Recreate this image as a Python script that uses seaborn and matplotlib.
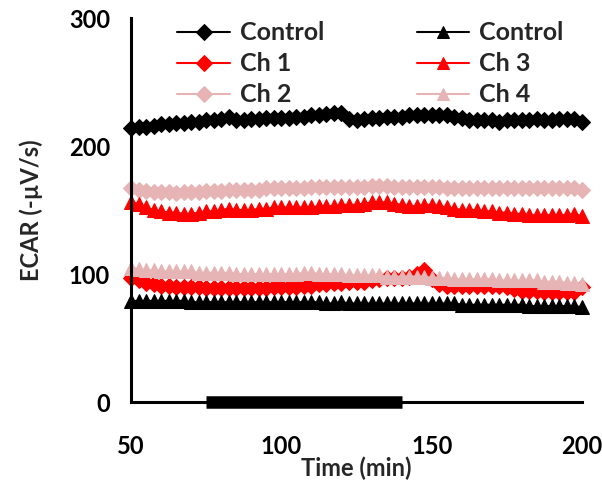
import matplotlib
matplotlib.use("Agg")
import matplotlib.pyplot as plt
import seaborn as sns
import pandas as pd

# Sampling times (min)
time_min = [50, 52.5, 55, 57.5, 60, 62.5, 65, 67.5, 70, 72.5, 75, 77.5, 80, 82.5,
            85, 87.5, 90, 92.5, 95, 97.5, 100, 102.5, 105, 107.5, 110, 112.5, 115,
            117.5, 120, 122.5, 125, 127.5, 130, 132.5, 135, 137.5, 140, 142.5, 145,
            147.5, 150, 152.5, 155, 157.5, 160, 162.5, 165, 167.5, 170, 172.5, 175,
            177.5, 180, 182.5, 185, 187.5, 190, 192.5, 195, 197.5, 200]

# ECAR traces, first group (diamonds)
control_a = [214, 215, 215, 216, 217,
             217, 218, 218, 219, 219, 220,
             220, 221, 223, 220, 220, 221,
             221, 222, 222, 222, 222, 223,
             223, 224, 224, 225, 226, 226,
             221, 220, 221, 222, 222, 223,
             223, 223, 224, 224, 224, 224,
             224, 224, 223, 222, 220, 220,
             220, 220, 219, 220, 220, 220,
             220, 221, 220, 220, 221, 221,
             221, 219]
ch1 = [97, 95, 93, 92, 91,
       91, 90, 90, 90, 90, 89,
       89, 89, 89, 89, 89, 89,
       89, 89, 90, 90, 90, 90,
       91, 91, 92, 92, 93, 93,
       94, 94, 94, 95, 96, 97,
       97, 97, 98, 100, 103, 96,
       92, 91, 91, 91, 91, 91,
       91, 91, 91, 90, 88, 87,
       87, 87, 86, 86, 86, 86,
       86, 90]
ch2 = [167, 166, 165, 164, 164,
       164, 163, 164, 164, 164, 165,
       165, 165, 166, 166, 166, 166,
       166, 167, 167, 167, 167, 167,
       167, 168, 168, 168, 168, 168,
       168, 168, 168, 169, 169, 169,
       168, 168, 168, 168, 168, 168,
       168, 167, 167, 167, 167, 167,
       167, 167, 167, 167, 167, 167,
       167, 167, 167, 167, 167, 167,
       167, 166]

# ECAR traces, second group (triangles)
control_b = [79, 79, 79, 79, 79,
             79, 79, 79, 78, 78, 78,
             78, 78, 78, 78, 78, 78,
             78, 78, 78, 78, 78, 78,
             78, 78, 78, 77, 77, 78,
             77, 77, 77, 77, 77, 77,
             77, 77, 77, 77, 77, 77,
             77, 77, 77, 76, 76, 76,
             76, 76, 76, 76, 76, 76,
             75, 75, 75, 75, 75, 75,
             75, 74]
ch3 = [156, 155, 152, 150, 149,
       148, 148, 147, 147, 148, 149,
       149, 150, 151, 150, 150, 150,
       151, 151, 152, 152, 152, 152,
       152, 152, 153, 153, 153, 154,
       154, 154, 155, 156, 156, 156,
       155, 154, 153, 153, 154, 154,
       153, 152, 151, 150, 150, 150,
       149, 149, 148, 148, 147, 147,
       146, 146, 146, 146, 146, 146,
       147, 145]
ch4 = [105, 104, 103, 103, 102,
       102, 102, 102, 102, 101, 101,
       101, 101, 101, 100, 100, 100,
       100, 100, 100, 100, 100, 100,
       101, 101, 100, 100, 100, 100,
       99, 99, 99, 99, 99, 98,
       98, 98, 98, 98, 98, 97,
       97, 97, 96, 96, 96, 96,
       96, 96, 95, 95, 95, 95,
       95, 95, 94, 94, 94, 93,
       93, 92]

series_labels = ["Control", "Ch 1", "Ch 2", "Control", "Ch 3", "Ch 4"]
series_values = [control_a, ch1, ch2, control_b, ch3, ch4]
series_markers = ["D", "D", "D", "^", "^", "^"]
series_colors = ["#000000", "#FF0000", "#E6B4B4", "#000000", "#FF0000", "#E6B4B4"]

# Treatment window shown as a bar on the time axis
treatment_window = [75, 140]

x_ticks = [50, 100, 150, 200]
y_ticks = [0, 100, 200, 300]

sns.set_style("white")
plt.rcParams["font.family"] = ["Lato", "DejaVu Sans"]
plt.rcParams["font.weight"] = "bold"

fig = plt.figure(figsize=(6.02, 4.88), dpi=100)
ax = fig.add_axes([0.2176, 0.1762, 0.7492, 0.7868])

for label, vals, mk, col in zip(series_labels, series_values, series_markers, series_colors):
    df = pd.DataFrame({"Time": time_min, "ECAR": vals})
    sns.lineplot(data=df, x="Time", y="ECAR", ax=ax, color=col, marker=mk,
                 markersize=8.5 if mk == "D" else 10, markeredgecolor=col,
                 linewidth=1.5, label=label, clip_on=False)

ax.plot(treatment_window, [0, 0], color="black", linewidth=9,
        solid_capstyle="butt", clip_on=False, zorder=5)

ax.set_xlim(50, 200)
ax.set_ylim(0, 300)
ax.set_xticks(x_ticks)
ax.set_yticks(y_ticks)

for side in ["top", "right"]:
    ax.spines[side].set_visible(False)
for side in ["left", "bottom"]:
    ax.spines[side].set_linewidth(2.2)
    ax.spines[side].set_color("black")

ax.tick_params(axis="x", direction="out", length=6, width=2, pad=18,
               labelsize=17, colors="black")
ax.tick_params(axis="y", direction="out", length=6, width=2, pad=9,
               labelsize=17, colors="black")
for lbl in ax.get_xticklabels() + ax.get_yticklabels():
    lbl.set_fontweight("bold")

ax.set_xlabel("Time (min)", fontsize=17, fontweight="bold", labelpad=-1)
ax.set_ylabel("ECAR (-µV/s)", fontsize=17, fontweight="bold", labelpad=19)

leg = ax.legend(ncol=2, loc="upper left", bbox_to_anchor=(0.053, 1.05),
                frameon=False, fontsize=18, handlelength=2.1,
                columnspacing=3.7, labelspacing=0.32, handletextpad=0.4,
                markerscale=0.9)
for t in leg.get_texts():
    t.set_fontweight("bold")

fig.savefig("out.png", dpi=100, facecolor="white")
